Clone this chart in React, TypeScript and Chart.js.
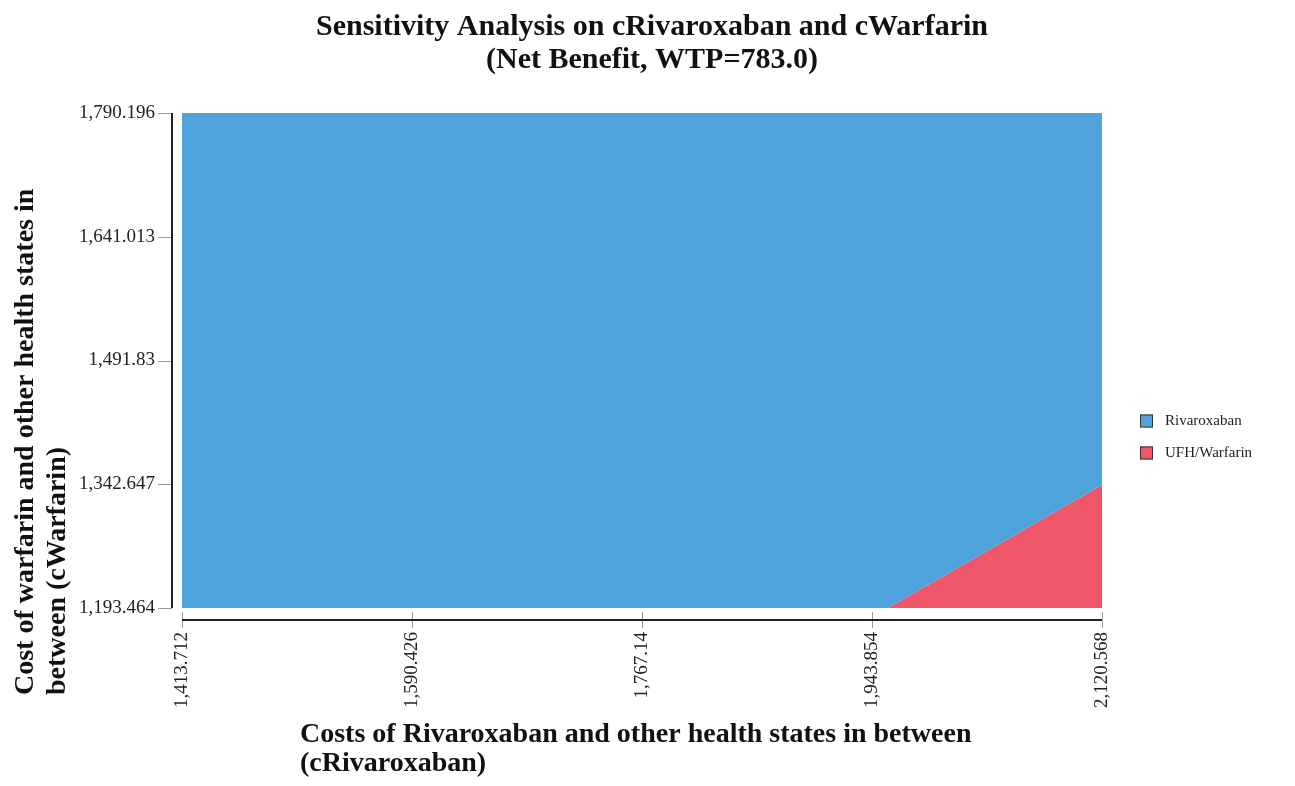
import React, { useEffect, useRef } from "react";
import { Chart, registerables } from "chart.js";

Chart.register(...registerables);

const titleLines = ["Sensitivity Analysis on cRivaroxaban and cWarfarin", "(Net Benefit, WTP=783.0)"];
const xTitleLines = ["Costs of Rivaroxaban and other health states in between", "(cRivaroxaban)"];
const yTitleLines = ["Cost of warfarin and other health states in", "between (cWarfarin)"];

const xTickValues = [1413.712, 1590.426, 1767.14, 1943.854, 2120.568];
const xTickLabels = ["1,413.712", "1,590.426", "1,767.14", "1,943.854", "2,120.568"];
const yTickValues = [1193.464, 1342.647, 1491.83, 1641.013, 1790.196];
const yTickLabels = ["1,193.464", "1,342.647", "1,491.83", "1,641.013", "1,790.196"];

// Boundary between the two optimal-strategy regions
const boundaryX = [1413.712, 1956.0, 2120.568];
const boundaryY = [1193.464, 1193.464, 1342.0];

const strategyNames = ["Rivaroxaban", "UFH/Warfarin"];
const strategyColors = ["#4ea3da", "#f0566a"];
const strategyFills = ["end", "start"];

const SERIF = "'Liberation Serif', 'Times New Roman', serif";

const decorPlugin = {
  id: "decor",
  afterDraw(chart: any) {
    const { ctx, chartArea } = chart;
    const { left, right, top, bottom } = chartArea;
    const xs = chart.scales.x;
    const ys = chart.scales.y;
    ctx.save();
    // tick marks
    ctx.strokeStyle = "#9a9a9a";
    ctx.lineWidth = 1;
    yTickValues.forEach((v) => {
      const py = Math.round(ys.getPixelForValue(v)) + 0.5;
      ctx.beginPath();
      ctx.moveTo(left - 24, py);
      ctx.lineTo(left - 10, py);
      ctx.stroke();
    });
    xTickValues.forEach((v) => {
      const px = Math.round(xs.getPixelForValue(v)) + 0.5;
      ctx.beginPath();
      ctx.moveTo(px, bottom + 4);
      ctx.lineTo(px, bottom + 20);
      ctx.stroke();
    });
    // axis lines
    ctx.strokeStyle = "#222";
    ctx.lineWidth = 2;
    ctx.beginPath();
    ctx.moveTo(left - 10, top);
    ctx.lineTo(left - 10, bottom);
    ctx.stroke();
    ctx.beginPath();
    ctx.moveTo(left, bottom + 12);
    ctx.lineTo(right, bottom + 12);
    ctx.stroke();

    // axis titles
    ctx.fillStyle = "#111";
    ctx.font = `bold 28px ${SERIF}`;
    ctx.textAlign = "left";
    ctx.textBaseline = "middle";
    xTitleLines.forEach((t, i) => {
      ctx.fillText(t, left + 118, bottom + 127 + i * 29);
    });
    yTitleLines.forEach((t, i) => {
      ctx.save();
      ctx.translate(left - 156 + i * 32, bottom + 87);
      ctx.rotate(-Math.PI / 2);
      ctx.fillText(t, 0, 0);
      ctx.restore();
    });

    // legend
    ctx.font = `15px ${SERIF}`;
    strategyNames.forEach((name, i) => {
      const cy = top + 308 + i * 32;
      ctx.fillStyle = strategyColors[i];
      ctx.fillRect(right + 38, cy - 6.5, 13, 13);
      ctx.strokeStyle = "#333";
      ctx.lineWidth = 1;
      ctx.strokeRect(right + 38.5, cy - 6, 12, 12);
      ctx.fillStyle = "#222";
      ctx.fillText(name, right + 63, cy);
    });
    ctx.restore();
  },
};

export default function App() {
  const canvasRef = useRef<HTMLCanvasElement | null>(null);

  useEffect(() => {
    if (!canvasRef.current) return;
    const points = boundaryX.map((x, i) => ({ x, y: boundaryY[i] }));
    const chart = new Chart(canvasRef.current, {
      type: "line",
      data: {
        datasets: strategyNames.map((name, i) => ({
          label: name,
          data: points,
          backgroundColor: strategyColors[i],
          borderColor: strategyColors[i],
          borderWidth: 0,
          pointRadius: 0,
          fill: strategyFills[i] as any,
          tension: 0,
        })),
      },
      options: {
        animation: false,
        responsive: true,
        maintainAspectRatio: false,
        layout: { padding: { left: 9, right: 0, top: 0, bottom: 0 } },
        plugins: {
          legend: { display: false },
          tooltip: { enabled: false },
          title: {
            display: true,
            text: titleLines,
            color: "#111",
            font: { family: SERIF, size: 30, weight: "bold", lineHeight: 1.1 },
            padding: { top: 2.5, bottom: 36.5 },
          },
        },
        scales: {
          x: {
            type: "linear",
            min: xTickValues[0],
            max: xTickValues[xTickValues.length - 1],
            grid: { display: false },
            border: { display: false },
            afterBuildTicks: (scale: any) => {
              scale.ticks = xTickValues.map((v) => ({ value: v }));
            },
            afterFit: (scale: any) => {
              scale.height = 178;
            },
            ticks: {
              autoSkip: false,
              minRotation: 90,
              maxRotation: 90,
              padding: 16,
              color: "#222",
              font: { family: SERIF, size: 19 },
              callback: (_v: any, i: number) => xTickLabels[i],
            },
          },
          y: {
            type: "linear",
            min: yTickValues[0],
            max: yTickValues[yTickValues.length - 1],
            grid: { display: false },
            border: { display: false },
            afterBuildTicks: (scale: any) => {
              scale.ticks = yTickValues.map((v) => ({ value: v }));
            },
            afterFit: (scale: any) => {
              scale.width = 165;
            },
            ticks: {
              autoSkip: false,
              padding: 19,
              color: "#222",
              font: { family: SERIF, size: 19 },
              callback: (_v: any, i: number) => yTickLabels[i],
            },
          },
          y2: {
            type: "linear",
            position: "right",
            min: 0,
            max: 1,
            grid: { display: false },
            border: { display: false },
            ticks: { display: false },
            afterFit: (scale: any) => {
              scale.width = 185;
            },
          },
        },
      },
      plugins: [decorPlugin],
    });
    return () => chart.destroy();
  }, []);

  return (
    <div style={{ position: "relative", width: "1279px", height: "778px", marginBottom: "-8px" }}>
      <canvas ref={canvasRef} />
    </div>
  );
}
